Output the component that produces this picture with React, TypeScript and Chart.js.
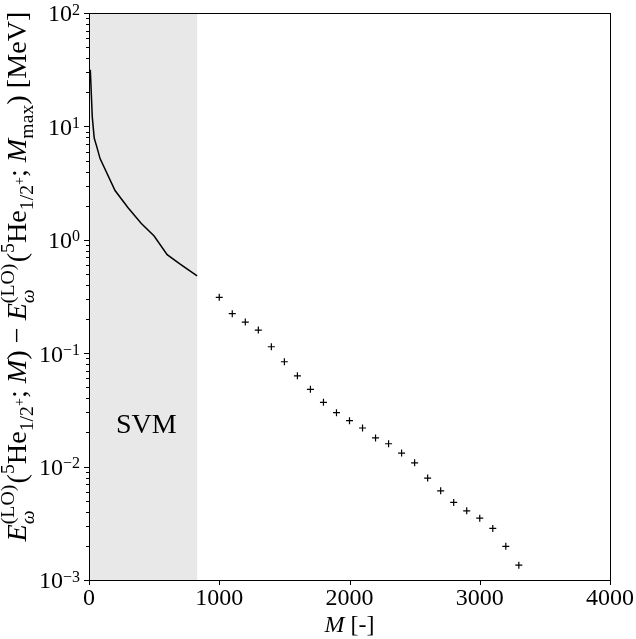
import React, { useEffect, useRef } from 'react';
import { Chart, registerables } from 'chart.js';

Chart.register(...registerables);

// ---- data ----
const svmM = [10, 25, 40, 60, 85, 200, 300, 400, 500, 600, 700, 830];
const svmE = [31.6, 12.2, 7.9, 6.6, 5.2, 2.72, 1.92, 1.40, 1.08, 0.74, 0.61, 0.48];

const dmrgM = [1000, 1100, 1200, 1300, 1400, 1500, 1600, 1700, 1800, 1900, 2000, 2100,
  2200, 2300, 2400, 2500, 2600, 2700, 2800, 2900, 3000, 3100, 3200, 3300];
const dmrgE = [0.311, 0.223, 0.188, 0.160, 0.114, 0.0841, 0.0632, 0.048, 0.0369, 0.0299,
  0.0254, 0.0219, 0.0179, 0.0159, 0.01315, 0.0108, 0.00792, 0.00611, 0.00483, 0.00407,
  0.00351, 0.00285, 0.00198, 0.00135];

const shadeRange = [0, 830];
const xTicks = [0, 1000, 2000, 3000, 4000];
const yExponents = [-3, -2, -1, 0, 1, 2];
const svmLabel = { text: 'SVM', x: 440, y: 0.0197 };

const FONT = '"Liberation Serif", "Times New Roman", serif';
const f = (size: number, italic = false) => `${italic ? 'italic ' : ''}${size}px ${FONT}`;

type Seg =
  | { k: 't'; t: string; it?: boolean; lvl?: 'base' | 'sup' | 'sub' | 'subsup' }
  | { k: 's'; sup: string; sub: string };

const titleSegs: Seg[] = [
  { k: 't', t: 'E', it: true },
  { k: 's', sup: '(LO)', sub: 'ω' },
  { k: 't', t: '(' },
  { k: 't', t: '5', lvl: 'sup' },
  { k: 't', t: 'He' },
  { k: 't', t: '1/2', lvl: 'sub' },
  { k: 't', t: '+', lvl: 'subsup' },
  { k: 't', t: '; ' },
  { k: 't', t: 'M', it: true },
  { k: 't', t: ') − ' },
  { k: 't', t: 'E', it: true },
  { k: 's', sup: '(LO)', sub: 'ω' },
  { k: 't', t: '(' },
  { k: 't', t: '5', lvl: 'sup' },
  { k: 't', t: 'He' },
  { k: 't', t: '1/2', lvl: 'sub' },
  { k: 't', t: '+', lvl: 'subsup' },
  { k: 't', t: '; ' },
  { k: 't', t: 'M', it: true },
  { k: 't', t: 'max', lvl: 'sub' },
  { k: 't', t: ') [MeV]' },
];

function layoutRich(ctx: CanvasRenderingContext2D, segs: Seg[], F: number, draw: boolean) {
  let x = 0;
  const sF = F * 0.7;
  const ssF = F * 0.5;
  for (const s of segs) {
    if (s.k === 's') {
      ctx.font = f(sF);
      const w1 = ctx.measureText(s.sup).width;
      ctx.font = f(sF, true);
      const w2 = ctx.measureText(s.sub).width;
      if (draw) {
        ctx.font = f(sF);
        ctx.fillText(s.sup, x, -F * 0.42);
        ctx.font = f(sF, true);
        ctx.fillText(s.sub, x, F * 0.28);
      }
      x += Math.max(w1, w2) + F * 0.05;
    } else {
      const lvl = s.lvl || 'base';
      let size = F, dy = 0;
      if (lvl === 'sup') { size = sF; dy = -F * 0.42; }
      if (lvl === 'sub') { size = sF; dy = F * 0.25; }
      if (lvl === 'subsup') { size = ssF; dy = F * 0.25 - sF * 0.45; }
      ctx.font = f(size, !!s.it);
      const w = ctx.measureText(s.t).width;
      if (draw) ctx.fillText(s.t, x, dy);
      x += w;
    }
  }
  return x;
}

const decor = {
  id: 'decor',
  beforeDatasetsDraw(chart: any) {
    const { ctx, chartArea: a, scales } = chart;
    const x = scales.x, y = scales.y;
    ctx.save();
    ctx.fillStyle = '#e8e8e8';
    const x0 = x.getPixelForValue(shadeRange[0]);
    const x1 = x.getPixelForValue(shadeRange[1]);
    ctx.fillRect(x0, a.top, x1 - x0, a.bottom - a.top);
    ctx.fillStyle = '#000';
    ctx.font = f(28);
    ctx.textAlign = 'center';
    ctx.textBaseline = 'alphabetic';
    ctx.fillText(svmLabel.text, x.getPixelForValue(svmLabel.x), y.getPixelForValue(svmLabel.y));
    ctx.restore();
  },
  afterDraw(chart: any) {
    const { ctx, chartArea: a, scales } = chart;
    const x = scales.x, y = scales.y;
    ctx.save();
    ctx.strokeStyle = '#000';
    ctx.lineWidth = 1;
    ctx.strokeRect(Math.round(a.left) + 0.5, Math.round(a.top) + 0.5,
      Math.round(a.right - a.left), Math.round(a.bottom - a.top));
    ctx.beginPath();
    // y ticks
    for (const e of yExponents) {
      const py = Math.round(y.getPixelForValue(Math.pow(10, e))) + 0.5;
      ctx.moveTo(a.left, py); ctx.lineTo(a.left - 5, py);
      if (e < 2) {
        for (let m = 2; m <= 9; m++) {
          const pm = Math.round(y.getPixelForValue(m * Math.pow(10, e))) + 0.5;
          ctx.moveTo(a.left, pm); ctx.lineTo(a.left - 3, pm);
        }
      }
    }
    for (const v of xTicks) {
      const px = Math.round(x.getPixelForValue(v)) + 0.5;
      ctx.moveTo(px, a.bottom); ctx.lineTo(px, a.bottom + 5);
    }
    ctx.stroke();
    ctx.fillStyle = '#000';
    ctx.textBaseline = 'alphabetic';
    // y tick labels
    for (const e of yExponents) {
      const py = y.getPixelForValue(Math.pow(10, e));
      const expStr = e < 0 ? '−' + String(-e) : String(e);
      ctx.font = f(16);
      const ew = ctx.measureText(expStr).width;
      const xEnd = a.left - 9;
      ctx.textAlign = 'left';
      ctx.fillText(expStr, xEnd - ew, py + 1.5);
      ctx.font = f(24);
      ctx.textAlign = 'right';
      ctx.fillText('10', xEnd - ew, py + 8.3);
    }
    // x tick labels
    ctx.font = f(24);
    ctx.textAlign = 'center';
    for (const v of xTicks) {
      ctx.fillText(String(v), x.getPixelForValue(v), a.bottom + 25);
    }
    // x title
    ctx.textAlign = 'left';
    ctx.font = f(24, true);
    const wM = ctx.measureText('M').width;
    ctx.font = f(24);
    const wR = ctx.measureText(' [-]').width;
    const cx = (a.left + a.right) / 2;
    const sx = cx - (wM + wR) / 2;
    ctx.font = f(24, true);
    ctx.fillText('M', sx, 632);
    ctx.font = f(24);
    ctx.fillText(' [-]', sx + wM, 632);
    // y title (rich text, rotated)
    const w1 = layoutRich(ctx, titleSegs, 1, false);
    let F = 527 / w1;
    F = Math.max(20, Math.min(30, F));
    const total = layoutRich(ctx, titleSegs, F, false);
    const centerY = 276.5;
    ctx.translate(26, centerY + total / 2);
    ctx.rotate(-Math.PI / 2);
    layoutRich(ctx, titleSegs, F, true);
    ctx.restore();
  },
};

export default function App() {
  const ref = useRef<HTMLCanvasElement | null>(null);
  useEffect(() => {
    if (!ref.current) return;
    const chart = new Chart(ref.current, {
      type: 'scatter',
      data: {
        datasets: [
          {
            data: svmM.map((m, i) => ({ x: m, y: svmE[i] })),
            showLine: true,
            borderColor: '#000',
            borderWidth: 1.5,
            pointRadius: 0,
            fill: false,
          },
          {
            data: dmrgM.map((m, i) => ({ x: m, y: dmrgE[i] })),
            showLine: false,
            pointStyle: 'cross',
            pointRadius: 3.5,
            pointBorderWidth: 1.2,
            borderColor: '#000',
            backgroundColor: '#000',
          },
        ],
      },
      options: {
        animation: false,
        responsive: false,
        devicePixelRatio: 1,
        layout: { padding: { left: 89, right: 26, top: 13, bottom: 59 } },
        plugins: { legend: { display: false }, tooltip: { enabled: false } },
        scales: {
          x: { type: 'linear', min: 0, max: 4000, display: false },
          y: { type: 'logarithmic', min: 1e-3, max: 100, display: false },
        },
      },
      plugins: [decor],
    });
    return () => chart.destroy();
  }, []);
  return (
    <div style={{ position: 'fixed', left: 0, top: 0, width: 636, height: 639, background: '#fff' }}>
      <canvas ref={ref} width={636} height={639} style={{ width: 636, height: 639 }} />
    </div>
  );
}
